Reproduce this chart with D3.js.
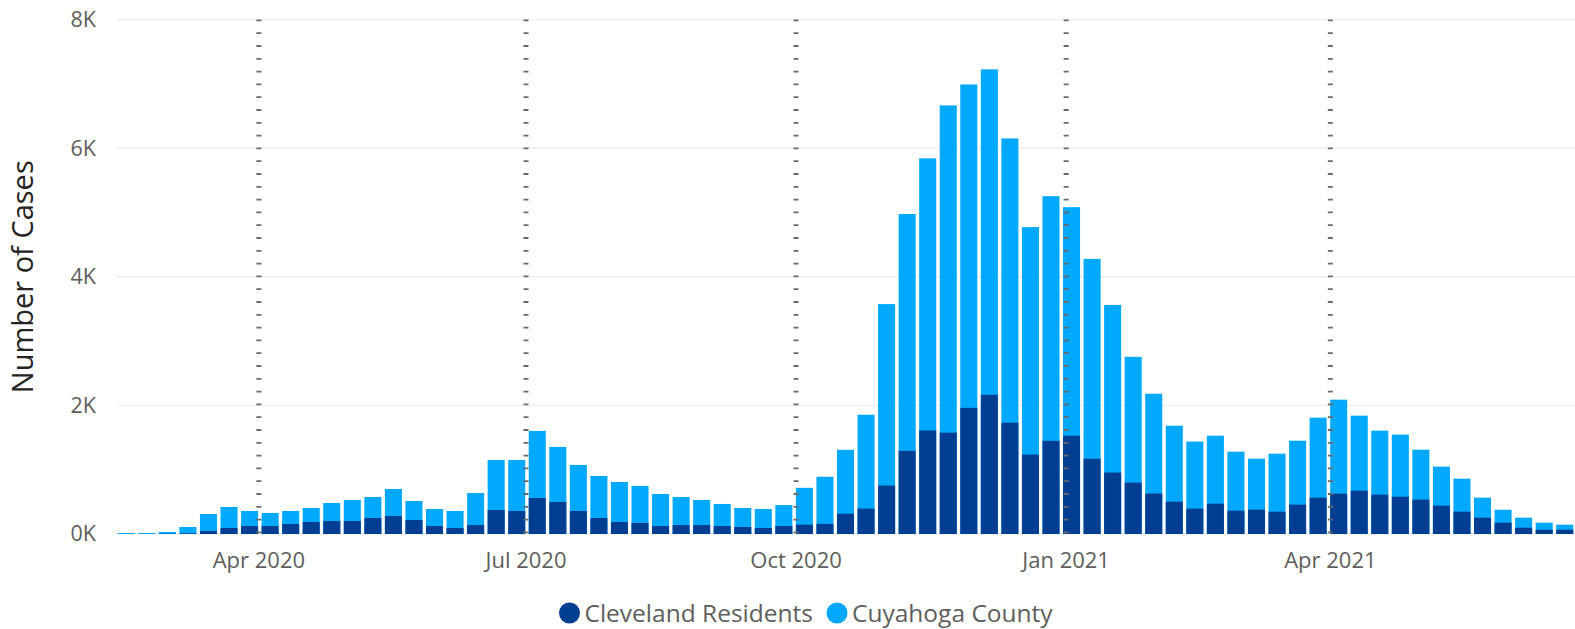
<!DOCTYPE html>
<html>
<head>
<meta charset="utf-8">
<script src="https://cdn.jsdelivr.net/npm/d3@7"></script>
<style>
    body { margin: 0; background: #ffffff; }
    svg text { font-family: "Open Sans", "Noto Sans", sans-serif; }
</style>
</head>
<body>
<script>

// weekly new cases, first week starts 12 Feb 2020
var firstWeek = new Date(2020, 1, 12);

var countyCases = [15, 15, 31, 109, 311, 420, 358, 327, 358, 404,
    482, 529, 575, 700, 513, 389, 358, 637, 1150, 1150,
    1603, 1354, 1074, 902, 809, 747, 622, 575, 529, 467,
    404, 389, 451, 718, 890, 1309, 1854, 3575, 4975, 5841,
    6664, 6990, 7225, 6151, 4772, 5253, 5082, 4278, 3562, 2755,
    2181, 1684, 1437, 1529, 1280, 1171, 1249, 1451, 1809, 2089,
    1840, 1607, 1545, 1311, 1047, 860, 565, 378, 254, 176, 145];

var clevelandCases = [0, 0, 5, 10, 47, 93, 124, 124, 155, 187,
    202, 202, 249, 280, 218, 124, 93, 140, 373, 358,
    560, 498, 358, 249, 187, 171, 124, 140, 140, 124,
    109, 93, 124, 145, 158, 315, 395, 753, 1293, 1609,
    1576, 1961, 2164, 1731, 1234, 1448, 1528, 1170, 955, 800,
    629, 502, 394, 472, 363, 378, 347, 456, 565, 627,
    674, 612, 580, 534, 441, 347, 254, 176, 98, 67, 67];

var yTicks = [0, 2000, 4000, 6000, 8000];
var xTickDates = [new Date(2020, 3, 1), new Date(2020, 6, 1), new Date(2020, 9, 1),
    new Date(2021, 0, 1), new Date(2021, 3, 1)];
var xTickLabels = ["Apr 2020", "Jul 2020", "Oct 2020", "Jan 2021", "Apr 2021"];
var seriesNames = ["Cleveland Residents", "Cuyahoga County"];
var seriesColors = ["#003e91", "#01a9fd"];

var w = 1575;
var h = 629;
var plotLeft = 116, plotRight = 1575, plotTop = 19.5, plotBottom = 534;
var barPadding = 3.5;

var weeks = [];
for (var i = 0; i < countyCases.length; i++) {
    weeks.push({
        start: d3.timeDay.offset(firstWeek, i * 7),
        county: countyCases[i],
        cleveland: clevelandCases[i]
    });
}

var lastDay = d3.timeDay.offset(weeks[weeks.length - 1].start, 7);

var xScale = d3.scaleTime()
    .domain([firstWeek, lastDay])
    .range([plotLeft, plotRight]);

var yScale = d3.scaleLinear()
    .domain([0, 8000])
    .range([plotBottom, plotTop]);

var svg = d3.select("body")
    .append("svg")
    .attr("width", w)
    .attr("height", h);

// gridlines
svg.selectAll(".grid")
    .data(yTicks)
    .enter()
    .append("line")
    .attr("x1", 117)
    .attr("x2", plotRight)
    .attr("y1", function (d) { return yScale(d); })
    .attr("y2", function (d) { return yScale(d); })
    .attr("stroke", "#efefef")
    .attr("stroke-width", 1.5);

// y labels
var yAxis = d3.axisLeft(yScale)
    .tickValues(yTicks)
    .tickSize(0)
    .tickPadding(0)
    .tickFormat(function (d) { return (d / 1000) + "K"; });

var yAxisG = svg.append("g")
    .attr("transform", "translate(96,0)")
    .call(yAxis);
yAxisG.select(".domain").remove();
yAxisG.selectAll("text")
    .attr("fill", "#605e5c")
    .style("font-size", "21.5px");

svg.append("text")
    .attr("transform", "translate(33," + ((plotTop + plotBottom) / 2) + ") rotate(-90)")
    .attr("text-anchor", "middle")
    .attr("fill", "#252423")
    .style("font-size", "29px")
    .text("Number of Cases");

function barX(d) {
    return xScale(d.start) + barPadding / 2;
}
function barW(d) {
    return xScale(d3.timeDay.offset(d.start, 7)) - xScale(d.start) - barPadding;
}

// county bars (behind), Cleveland bars in front
svg.selectAll(".county")
    .data(weeks)
    .enter()
    .append("rect")
    .attr("class", "county")
    .attr("x", barX)
    .attr("width", barW)
    .attr("y", function (d) { return yScale(d.county); })
    .attr("height", function (d) { return plotBottom - yScale(d.county); })
    .attr("fill", seriesColors[1]);

svg.selectAll(".cleveland")
    .data(weeks)
    .enter()
    .append("rect")
    .attr("class", "cleveland")
    .attr("x", barX)
    .attr("width", barW)
    .attr("y", function (d) { return yScale(d.cleveland); })
    .attr("height", function (d) { return plotBottom - yScale(d.cleveland); })
    .attr("fill", seriesColors[0]);

// dotted quarter lines
svg.selectAll(".quarter")
    .data(xTickDates)
    .enter()
    .append("line")
    .attr("x1", function (d) { return xScale(d) - 1; })
    .attr("x2", function (d) { return xScale(d) - 1; })
    .attr("y1", plotTop)
    .attr("y2", plotBottom)
    .attr("stroke", "#6a6a6a")
    .attr("stroke-width", 5)
    .attr("stroke-dasharray", "1.8 11");

// x labels
svg.selectAll(".xlabel")
    .data(xTickDates)
    .enter()
    .append("text")
    .attr("x", function (d) { return xScale(d) - 1; })
    .attr("y", 568)
    .attr("text-anchor", "middle")
    .attr("fill", "#605e5c")
    .style("font-size", "22px")
    .text(function (d, i) { return xTickLabels[i]; });

// legend
var legendX = [569.5, 837];
var legend = svg.selectAll(".legend")
    .data(seriesNames)
    .enter()
    .append("g")
    .attr("transform", function (d, i) { return "translate(" + legendX[i] + ",613)"; });

legend.append("circle")
    .attr("r", 10.5)
    .attr("fill", function (d, i) { return seriesColors[i]; });

legend.append("text")
    .attr("x", 15)
    .attr("y", 9)
    .attr("fill", "#605e5c")
    .style("font-size", "24.5px")
    .text(function (d) { return d; });

</script>
</body>
</html>
